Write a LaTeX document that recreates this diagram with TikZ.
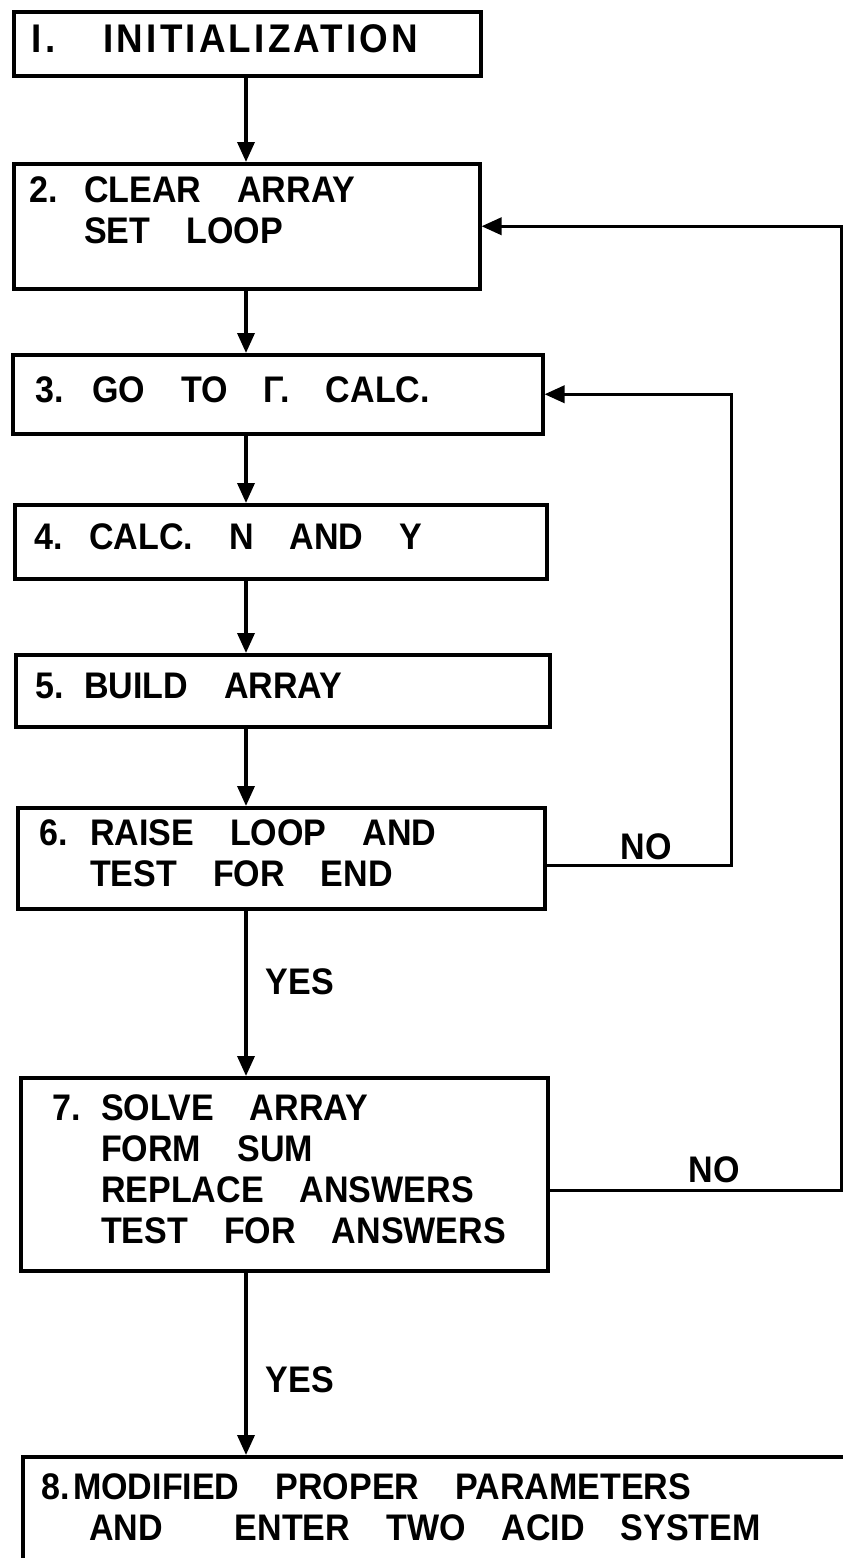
\documentclass[tikz,border=0pt]{standalone}
\usepackage{fontspec}
\setmainfont{Liberation Sans}[FakeStretch=0.92]
\usetikzlibrary{arrows.meta,positioning}

\newcommand\stepfont{\fontsize{37}{41}\selectfont\bfseries}
\newcommand\steptext[2][24pt]{\noindent\spaceskip=36pt plus 4pt minus 4pt\relax
  \begin{tabular}{@{}l@{\hspace{#1}}l@{}}#2\end{tabular}}

\begin{document}
\begin{tikzpicture}[x=1pt, y=-1pt, >={Triangle[length=20pt,width=17pt]},
    stepbox/.style={draw, line width=3.5pt, anchor=north west, inner ysep=0pt, align=left, font=\stepfont},
    flowline/.style={line width=3.5pt, ->},
    answer/.style={font=\stepfont, inner sep=4pt}]
\useasboundingbox (0,0) rectangle (843,1558);
\clip (0,0) rectangle (843,1558);
\coordinate (spine) at (246,0);
% the eight steps, top to bottom
\node[stepbox, text width=431pt, inner xsep=18pt, minimum height=64pt,
      font={\fontsize{40}{44}\selectfont\bfseries\addfontfeature{LetterSpace=8}}] (step1) at (12,10) {\steptext[48pt]{I. & INITIALIZATION}};
\node[stepbox, text width=434pt, inner xsep=16pt, minimum height=125pt] (step2) at (12,162) {\steptext[26pt]{2. & CLEAR ARRAY\\ & SET LOOP\\[22pt]}};
\node[stepbox, text width=484pt, inner xsep=23pt, minimum height=79pt] (step3) at (11,353) {\steptext[28pt]{3. & GO TO Γ. CALC.}};
\node[stepbox, text width=492pt, inner xsep=20pt, minimum height=74pt] (step4) at (13,503) {\steptext[26pt]{4. & CALC. N AND Y}};
\node[stepbox, text width=494pt, inner xsep=20pt, minimum height=72pt] (step5) at (14,653) {\steptext[20pt]{5. & BUILD ARRAY}};
\node[stepbox, text width=483pt, inner xsep=22pt, minimum height=101pt] (step6) at (16,806) {\steptext[22pt]{6. & RAISE LOOP AND\\ & TEST FOR END}};
\node[stepbox, text width=463pt, inner xsep=32pt, minimum height=193pt] (step7) at (19,1076) {\steptext[20pt]{7. & SOLVE ARRAY\\ & FORM SUM\\ & REPLACE ANSWERS\\ & TEST FOR ANSWERS}};
\node[stepbox, text width=862pt, inner xsep=19pt, minimum height=110pt] (step8) at (21,1455) {\steptext[3pt]{8. & MODIFIED PROPER PARAMETERS\\ & \hspace{16pt}AND \ ENTER TWO ACID SYSTEM}};
% main flow
\draw[flowline] (step1.south -| spine) -- (step2.north -| spine);
\draw[flowline] (step2.south -| spine) -- (step3.north -| spine);
\draw[flowline] (step3.south -| spine) -- (step4.north -| spine);
\draw[flowline] (step4.south -| spine) -- (step5.north -| spine);
\draw[flowline] (step5.south -| spine) -- (step6.north -| spine);
\draw[flowline] (step6.south -| spine) -- node[answer, right=14pt, pos=0.43] {YES} (step7.north -| spine);
\draw[flowline] (step7.south -| spine) -- node[answer, right=14pt, pos=0.59] {YES} (step8.north -| spine);
% loops back
\draw[flowline] ([yshift=-7pt]step6.east) -- node[answer, above, pos=0.54] {NO} ++(185,0) |- (step3.east);
\draw[flowline] ([yshift=-16pt]step7.east) -- node[answer, above=2pt, pos=0.565] {NO} ++(292,0) |- (step2.east);
\end{tikzpicture}
\end{document}
